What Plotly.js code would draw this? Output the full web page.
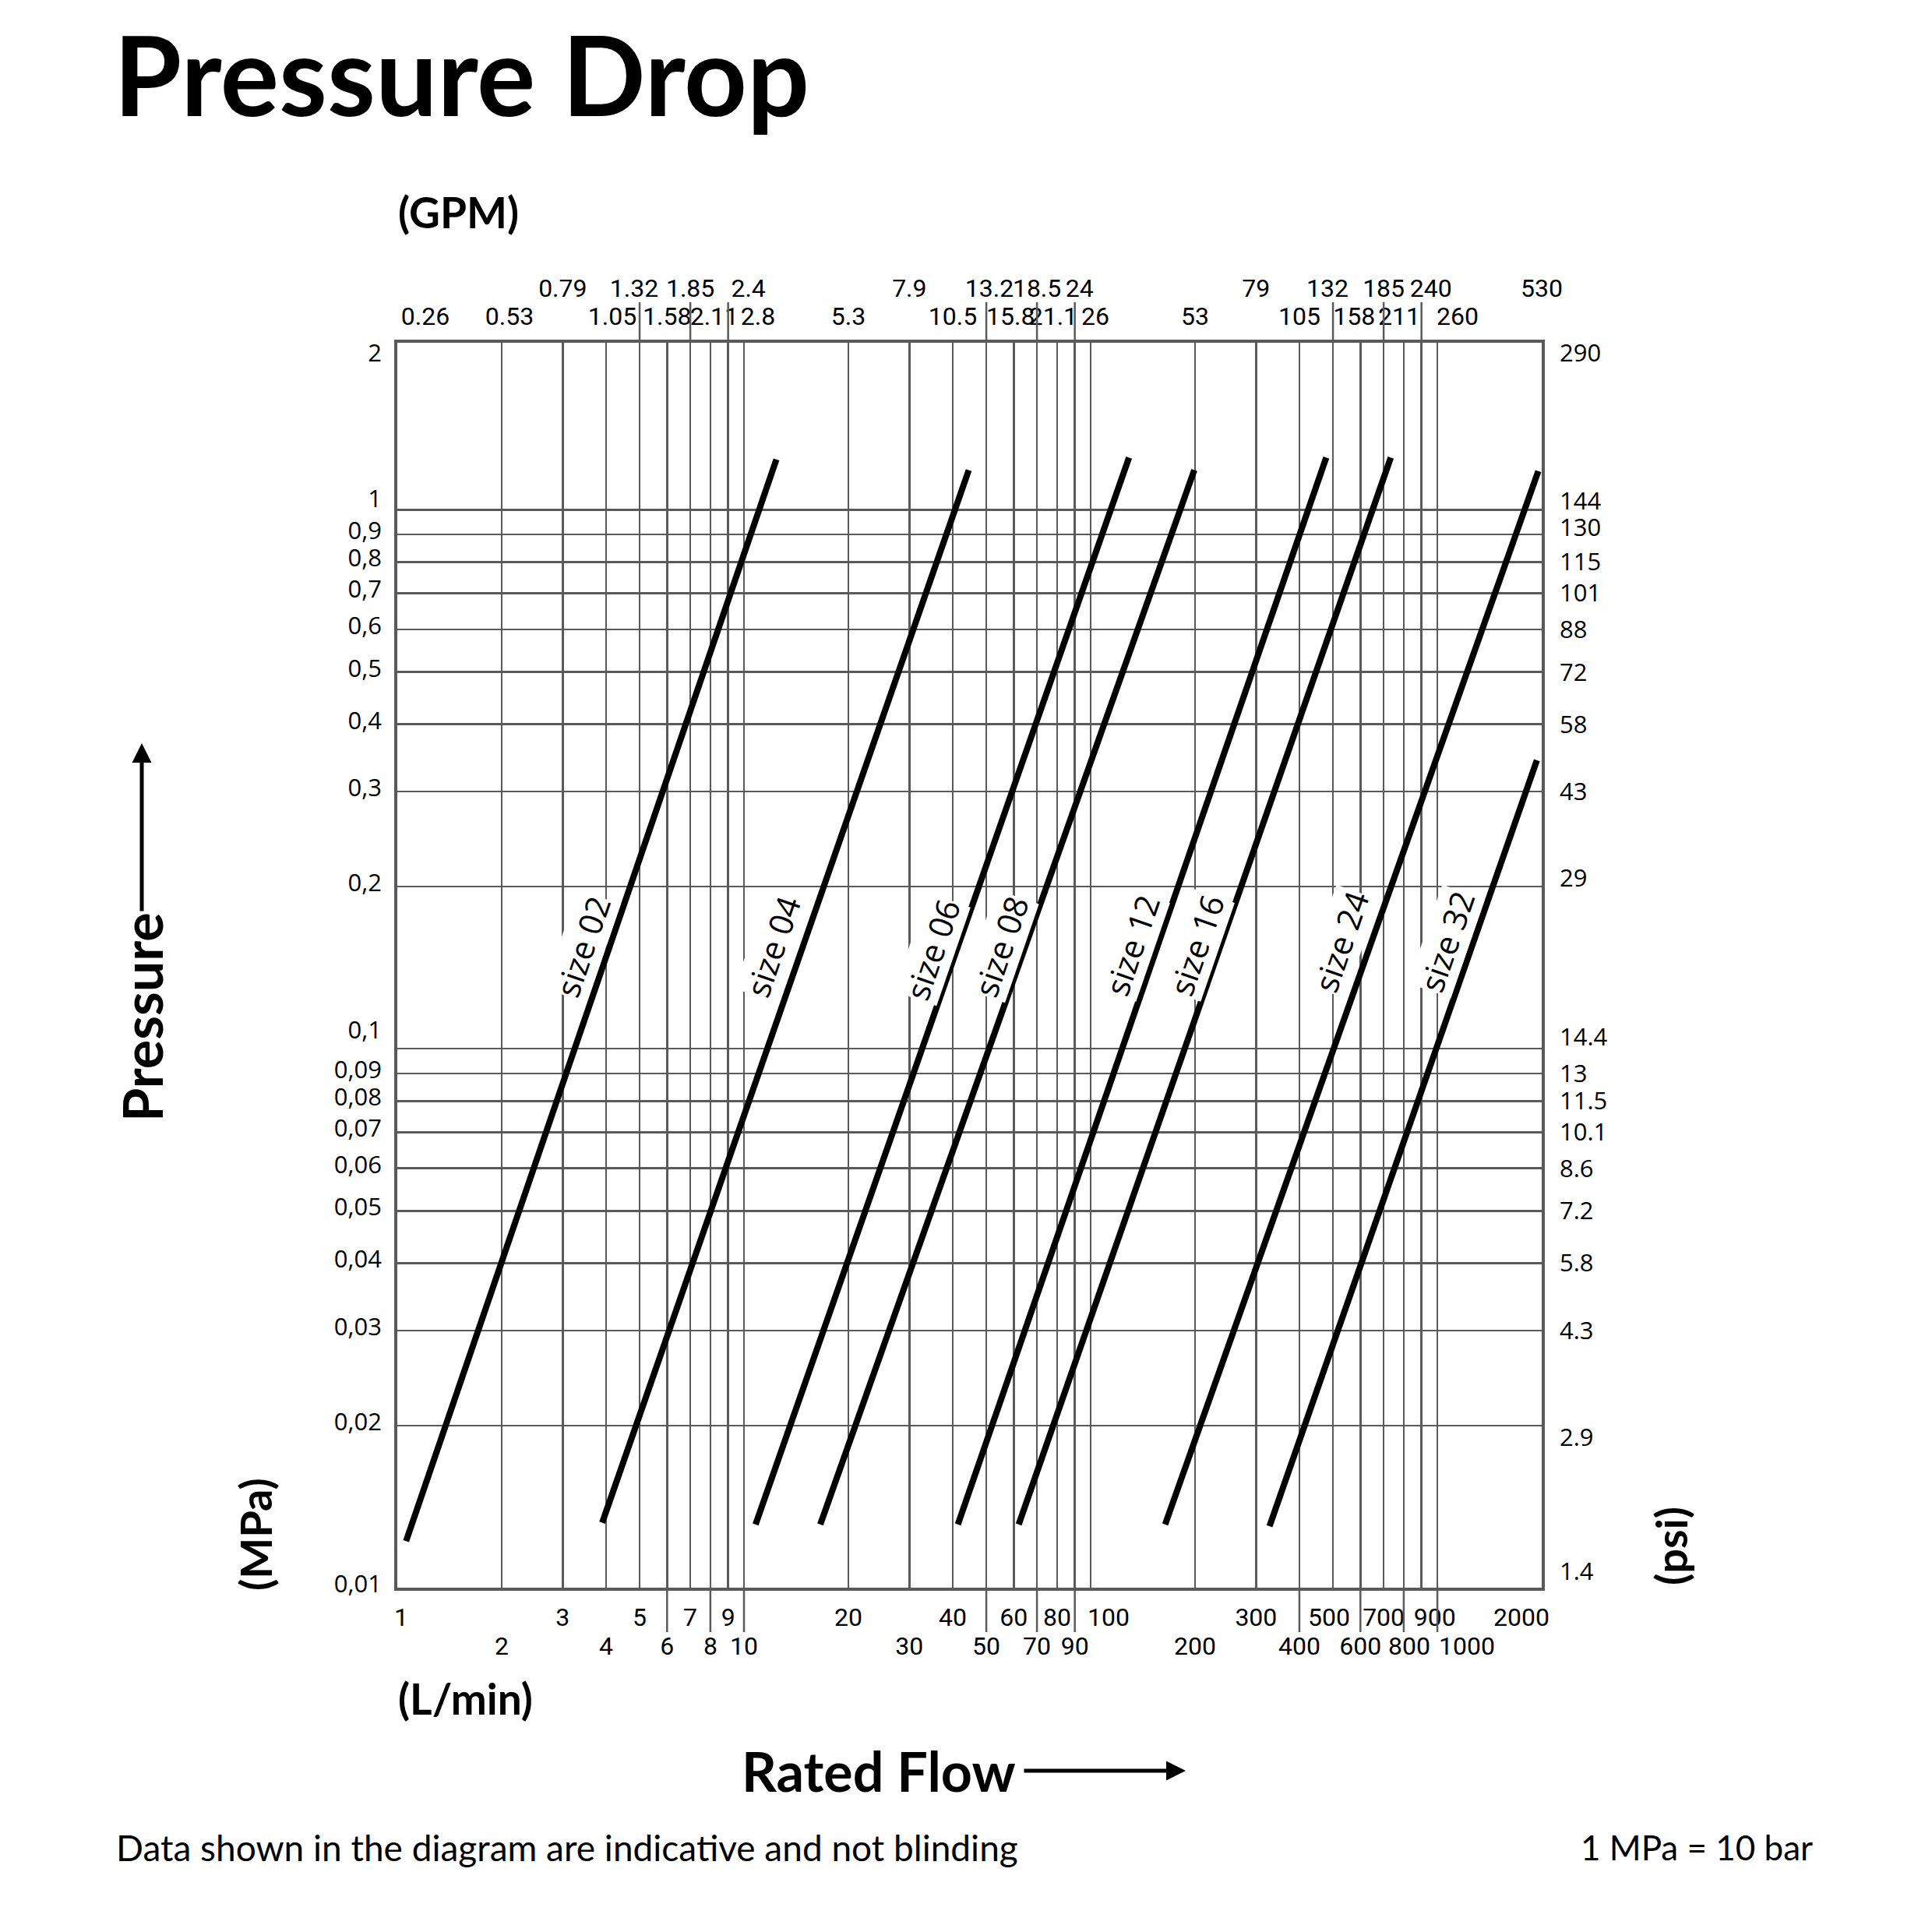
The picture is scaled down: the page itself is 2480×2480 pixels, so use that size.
<!DOCTYPE html>
<html>
<head>
<meta charset="utf-8">
<script src="https://cdn.plot.ly/plotly-3.0.1.min.js"></script>
<style>
html,body{margin:0;padding:0;background:#fff;}
#chart{width:2480px;height:2480px;}
</style>
</head>
<body>
<div id="chart"></div>
<script>
// ---------------- data ----------------
const sizes = ['size 02','size 04','size 06','size 08','size 12','size 16','size 24','size 32'];
const flowStart = [1.06, 3.9, 10.8, 16.6, 41.4, 62, 164, 328];          // L/min
const flowEnd = [12.4, 44.5, 129, 199, 478, 734, 1955, 1937];           // L/min
const pressureStart = [0.0122, 0.0132, 0.0131, 0.0131, 0.0131, 0.0131, 0.0131, 0.0130]; // MPa
const pressureEnd = [1.24, 1.185, 1.25, 1.185, 1.25, 1.25, 1.18, 0.343];                // MPa
const labelFlow = [3.42, 12.1, 34.9, 55, 131.5, 202, 527, 1064];
const labelPressure = [0.155, 0.155, 0.153, 0.155, 0.156, 0.156, 0.158, 0.158];

const flowGrid = [2,3,4,5,6,7,8,9,10,20,30,40,50,60,70,80,90,100,200,300,400,500,600,700,800,900,1000];
const pressureGrid = [0.02,0.03,0.04,0.05,0.06,0.07,0.08,0.09,0.1,0.2,0.3,0.4,0.5,0.6,0.7,0.8,0.9,1];

const lpmRow1 = [1,3,5,7,9,20,40,60,80,100,300,500,700,900,2000];
const lpmRow1Text = ['1','3','5','7','9','20','40','60','80','100','300','500','700','900','2000'];
const lpmRow2 = [2,4,6,8,10,30,50,70,90,200,400,600,800,1000];
const lpmRow2Text = ['2','4','6','8','10','30','50','70','90','200','400','600','800','1000'];

const gpmLowerAt = [1,2,4,6,8,10,20,40,60,80,100,200,400,600,800,1000];
const gpmLowerText = ['0.26','0.53','1.05','1.58','2.11','2.8','5.3','10.5','15.8','21.1','26','53','105','158','211','260'];
const gpmUpperAt = [3,5,7,9,30,50,70,90,300,500,700,900,2000];
const gpmUpperText = ['0.79','1.32','1.85','2.4','7.9','13.2','18.5','24','79','132','185','240','530'];

const mpaTicks = [2,1,0.9,0.8,0.7,0.6,0.5,0.4,0.3,0.2,0.1,0.09,0.08,0.07,0.06,0.05,0.04,0.03,0.02,0.01];
const mpaText = ['2','1','0,9','0,8','0,7','0,6','0,5','0,4','0,3','0,2','0,1','0,09','0,08','0,07','0,06','0,05','0,04','0,03','0,02','0,01'];
const psiText = ['290','144','130','115','101','88','72','58','43','29','14.4','13','11.5','10.1','8.6','7.2','5.8','4.3','2.9','1.4'];

const gpmLineAt = [5,7,9,50,70,90,500,700,900];
const lpmLineAt = [6,8,10,50,70,90,400,600,800,1000];

// ---------------- style ----------------
const W = 2480, H = 2480;
const M = {l:510, r:501, t:440, b:442};
const plotW = W - M.l - M.r, plotH = H - M.t - M.b;
const GRID = '#5a5a5a';
const X_RANGE = [0, Math.log10(2000)];
const Y_RANGE = [-2, 0.31];
const narrowFont = {family:'Liberation Sans Narrow, Roboto, sans-serif', size:32, color:'#000'};
const sideFont = {family:'Open Sans, sans-serif', size:31, color:'#000'};
const boldFont = (s) => ({family:'Lato, sans-serif', size:s, weight:700, color:'#000'});

// label nudges (px along axis; for y: px upward) for labels beside extension lines / crowded spots
const topLowerNudge = {'0.26':36, '0.53':10, '1.05':8, '2.11':5, '2.8':18, '15.8':-4, '21.1':-5, '26':6, '158':-8, '211':-6, '260':26};
const topUpperNudge = {'1.32':-7, '2.4':26, '13.2':4, '24':6, '132':-7, '240':12};
const bottom1Nudge = {'1':5, '100':23, '500':-5, '900':17, '2000':-26};
const bottom2Nudge = {'800':7, '1000':38};
const leftNudge = {'2':-7, '1':14, '0,1':24};
const rightNudge = {'290':-7, '144':11, '130':9, '29':11, '14.4':15, '2.9':-15, '1.4':21};

const traces = [];
const layout = {
  width: W, height: H,
  margin: M,
  paper_bgcolor:'#fff', plot_bgcolor:'#fff',
  showlegend:false,
  title: {
    text:'Pressure Drop', xref:'container', yref:'container',
    x:146/W, xanchor:'left', y:1-100/H, yanchor:'middle',
    font: boldFont(141)
  },
  xaxis: {
    type:'log', range:X_RANGE, autorange:false,
    tickmode:'array', tickvals:flowGrid, showticklabels:false, ticks:'',
    showgrid:true, gridcolor:GRID, gridwidth:2.5,
    showline:true, mirror:true, linecolor:GRID, linewidth:4, zeroline:false, fixedrange:true
  },
  yaxis: {
    type:'log', range:Y_RANGE, autorange:false,
    tickmode:'array', tickvals:pressureGrid, showticklabels:false, ticks:'',
    showgrid:true, gridcolor:GRID, gridwidth:2.5,
    showline:true, mirror:true, linecolor:GRID, linewidth:4, zeroline:false, fixedrange:true
  },
  shapes: [],
  annotations: []
};

let xCount = 1, yCount = 1;
function addLabelAxes(letter, side, vals, texts, font, standoff, nudges, defaultNudge) {
  const groups = new Map();
  vals.forEach((v, i) => {
    const n = (texts[i] in nudges) ? nudges[texts[i]] : defaultNudge;
    if (!groups.has(n)) groups.set(n, {v:[], t:[]});
    groups.get(n).v.push(v); groups.get(n).t.push(texts[i]);
  });
  groups.forEach((g, n) => {
    const common = {
      type:'log', autorange:false, side:side,
      tickmode:'array', tickvals:g.v, ticktext:g.t, tickangle:0,
      showgrid:false, zeroline:false, showline:false, ticks:'',
      tickfont:font, ticklabelstandoff:standoff, fixedrange:true
    };
    if (letter === 'x') {
      xCount++;
      layout['xaxis' + xCount] = Object.assign({range:X_RANGE, overlaying:'x', anchor:'y', ticklabelshift:n}, common);
      traces.push({type:'scatter', x:[], y:[], xaxis:'x' + xCount, yaxis:'y', hoverinfo:'skip', showlegend:false});
    } else {
      yCount++;
      layout['yaxis' + yCount] = Object.assign({range:Y_RANGE, overlaying:'y', anchor:'x', ticklabelshift:-n}, common);
      traces.push({type:'scatter', x:[], y:[], xaxis:'x', yaxis:'y' + yCount, hoverinfo:'skip', showlegend:false});
    }
  });
}

addLabelAxes('x', 'bottom', lpmRow1, lpmRow1Text, narrowFont, 16, bottom1Nudge, 0);
addLabelAxes('x', 'bottom', lpmRow2, lpmRow2Text, narrowFont, 53, bottom2Nudge, 0);
addLabelAxes('x', 'top', gpmLowerAt, gpmLowerText, narrowFont, 16, topLowerNudge, 0);
addLabelAxes('x', 'top', gpmUpperAt, gpmUpperText, narrowFont, 52, topUpperNudge, 0);
addLabelAxes('y', 'left', mpaTicks, mpaText, sideFont, 19, leftNudge, 5);
addLabelAxes('y', 'right', mpaTicks, psiText, sideFont, 22, rightNudge, 0);

// curves
sizes.forEach((s, i) => {
  traces.push({
    type:'scatter', mode:'lines', name:s,
    x:[flowStart[i], flowEnd[i]], y:[pressureStart[i], pressureEnd[i]],
    line:{color:'#000', width:8}, hoverinfo:'skip', showlegend:false
  });
  layout.annotations.push({
    xref:'x', yref:'y', x:Math.log10(labelFlow[i]), y:Math.log10(labelPressure[i]),
    xanchor:'center', yanchor:'middle',
    text:s, showarrow:false, textangle:-71,
    font:{family:'Open Sans, sans-serif', size:42, color:'#000'},
    bgcolor:'#fff', borderpad:0
  });
});

// gridline extensions beyond the frame
gpmLineAt.forEach(v => layout.shapes.push({type:'line', xref:'x', yref:'paper', x0:v, x1:v, y0:1, y1:1 + 52/plotH, line:{color:GRID, width:2.5}}));
lpmLineAt.forEach(v => layout.shapes.push({type:'line', xref:'x', yref:'paper', x0:v, x1:v, y0:0, y1:-57/plotH, line:{color:GRID, width:2.5}}));

// axis titles and notes
const px = (X) => (X - M.l) / plotW;
const py = (Y) => (H - M.b - Y) / plotH;
const txt = (X, Y, text, font, extra) => Object.assign({xref:'paper', yref:'paper', x:px(X), y:py(Y), xanchor:'center', yanchor:'middle', text:text, showarrow:false, font:font}, extra || {});
layout.annotations.push(
  txt(509, 272, '(GPM)', boldFont(55), {xanchor:'left'}),
  txt(509, 2180, '(L/min)', boldFont(55), {xanchor:'left'}),
  txt(1306, 2273, 'Rated Flow', boldFont(70), {xanchor:'right'}),
  {xref:'paper', yref:'paper', x:px(1522), y:py(2273), ax:-209, ay:0, text:'', showarrow:true, arrowhead:2, arrowsize:1, arrowwidth:5, arrowcolor:'#000'},
  txt(182, 1306, 'Pressure', boldFont(70), {textangle:-90}),
  {xref:'paper', yref:'paper', x:px(182), y:py(954), ax:0, ay:217, text:'', showarrow:true, arrowhead:2, arrowsize:1, arrowwidth:5, arrowcolor:'#000'},
  txt(327, 1970, '(MPa)', boldFont(56), {textangle:-90}),
  txt(2144, 1985, '(psi)', boldFont(56), {textangle:-90}),
  txt(147, 2371, 'Data shown in the diagram are indicative and not blinding', {family:'Lato, sans-serif', size:46, color:'#000'}, {xanchor:'left'}),
  txt(2329, 2371, '1 MPa = 10 bar', {family:'Lato, sans-serif', size:44, color:'#000'}, {xanchor:'right'})
);

Plotly.newPlot('chart', traces, layout, {displayModeBar:false, staticPlot:true});
</script>
</body>
</html>
